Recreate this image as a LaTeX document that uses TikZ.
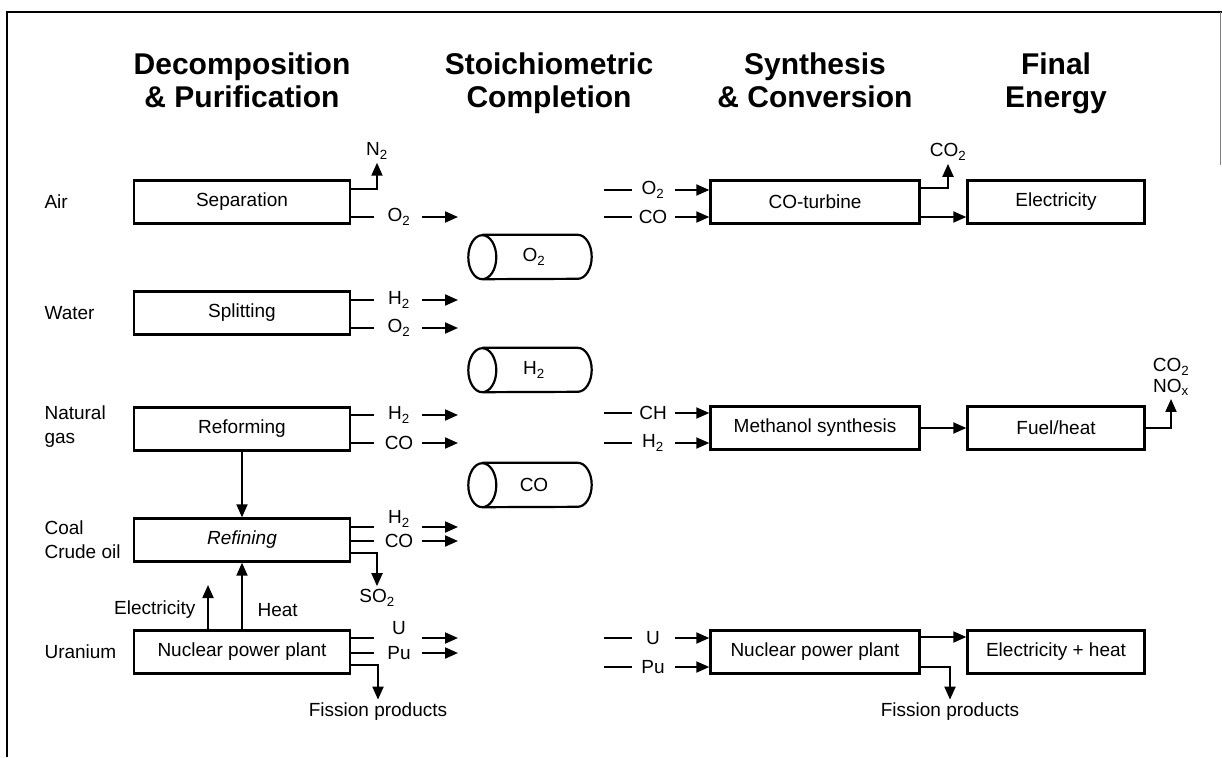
\documentclass[tikz,border=0pt]{standalone}
\usepackage{fontspec}
\setmainfont{Liberation Sans}
\usetikzlibrary{arrows.meta}

\newcommand{\sub}[1]{\textsubscript{#1}}

\tikzset{
  unit/.style={draw, line width=2.4pt, minimum height=43pt, inner sep=0pt},
  tank/.style={minimum width=123pt, minimum height=44pt, inner sep=0pt},
  tankline/.style={line width=2.2pt},
  pipe/.style={line width=2pt},
  arr/.style={line width=2pt, -{Triangle[length=13pt, width=11pt]}},
  gas/.style={inner sep=0pt},
  head/.style={font=\fontsize{30}{33}\selectfont\bfseries, align=center}
}

\begin{document}
\begin{tikzpicture}[x=1pt, y=-1pt, font=\fontsize{19}{24}\selectfont]
\useasboundingbox (0,0) rectangle (1222,757);
% frame
\draw[line width=1.8pt] (7,757) -- (7,12) -- (1222,12);
\draw[line width=0.8pt, gray] (1220,12) -- (1220,165);

% column heads
\node[head] (hDec) at (242,84) {Decomposition\strut\\\& Purification\strut};
\node[head] (hSto) at (549,84) {Stoichiometric\strut\\Completion\strut};
\node[head] (hSyn) at (815,84) {Synthesis\strut\\\& Conversion\strut};
\node[head] (hFin) at (1056,84) {Final\strut\\Energy\strut};

% raw materials
\node[anchor=west] (air) at (41,202) {Air};
\node[anchor=west] (water) at (41,313) {Water};
\node[anchor=west, align=left] (natgas) at (41,427) {Natural\\gas};
\node[anchor=west, align=left] (coal) at (41,540) {Coal\\Crude oil};
\node[anchor=west] (uran) at (41,652) {Uranium};

% first column
\node[unit, minimum width=216pt] (sep) at (242,202) {Separation};
\node[unit, minimum width=216pt] (split) at (242,313) {Splitting};
\node[unit, minimum width=216pt] (reform) at (242,429) {Reforming};
\node[unit, minimum width=216pt] (refine) at (242,540) {\itshape Refining};
\node[unit, minimum width=216pt] (nucL) at (242,652) {Nuclear power plant};

% storage tanks, lying cylinders
\foreach \n/\y/\t in {tankO/257/{O\sub{2}}, tankH/370/{H\sub{2}}, tankC/485/CO}{
  \node[tank] (\n) at (530,\y) {\hspace{8pt}\t};
  \draw[tankline] ([xshift=14pt]\n.north west) -- ([xshift=-14pt]\n.north east)
    arc[start angle=90, end angle=-90, x radius=14pt, y radius=22pt]
    -- ([xshift=14pt]\n.south west)
    arc[start angle=270, end angle=90, x radius=14pt, y radius=22pt]
    arc[start angle=90, end angle=-90, x radius=14pt, y radius=22pt];
}

% second and third column
\node[unit, minimum width=209pt] (turb) at (815,202) {CO-turbine};
\node[unit, minimum width=209pt] (meth) at (815,428) {Methanol synthesis};
\node[unit, minimum width=209pt] (nucR) at (815,652) {Nuclear power plant};
\node[unit, minimum width=177pt] (elec) at (1056,202) {Electricity};
\node[unit, minimum width=177pt] (fuel) at (1056,428) {Fuel/heat};
\node[unit, minimum width=177pt] (elheat) at (1056,652) {Electricity + heat};

% products leaving the first column
\foreach \b/\y/\t/\ty in {sep/217/{O\sub{2}}/217, split/300/{H\sub{2}}/300,
    split/328/{O\sub{2}}/328, reform/415/{H\sub{2}}/415, reform/443/CO/443,
    refine/527/{H\sub{2}}/519, refine/541/CO/541, nucL/638/U/628, nucL/653/Pu/653}{
  \node[gas] (g-\b-\y) at (399,\ty) {\t};
  \coordinate (s-\b-\y) at (374,\y);
  \coordinate (a-\b-\y) at (422,\y);
  \coordinate (e-\b-\y) at (458,\y);
  \draw[pipe] (\b.east |- s-\b-\y) -- (s-\b-\y);
  \draw[arr] (a-\b-\y) -- (e-\b-\y);
}

% feeds of the conversion units
\foreach \b/\y/\t in {turb/190/{O\sub{2}}, turb/217/CO, meth/413/CH,
    meth/443/{H\sub{2}}, nucR/638/U, nucR/667/Pu}{
  \node[gas] (h-\b-\y) at (653,\y) {\t};
  \coordinate (d-\b-\y) at (604,\y);
  \coordinate (f-\b-\y) at (632,\y);
  \coordinate (k-\b-\y) at (675,\y);
  \draw[pipe] (d-\b-\y) -- (f-\b-\y);
  \draw[arr] (k-\b-\y) -- (\b.west |- k-\b-\y);
}

% by-products
\node (n2) at (377,151) {N\sub{2}};
\draw[arr] ([yshift=13pt]sep.east) -| (n2.south);
\node (so2) at (377,598) {SO\sub{2}};
\draw[arr] ([yshift=-13pt]refine.east) -| (so2.north);
\node (fissL) at (378,712) {Fission products};
\draw[arr] ([yshift=-13pt]nucL.east) -| (fissL.north);
\node (co2) at (948,152) {CO\sub{2}};
\draw[arr] ([yshift=14pt]turb.east) -| (co2.south);
\node[align=center, font=\fontsize{19}{21}\selectfont] (exh) at (1171,377) {CO\sub{2}\\NO\sub{x}};
\draw[arr] (fuel.east) -| (exh.south);
\node (fissR) at (950,712) {Fission products};
\draw[arr] ([yshift=-15pt]nucR.east) -| (fissR.north);

% energy flows
\draw[arr] (reform) -- (refine);
\draw[arr] (nucL) -- (refine);
\node[anchor=west] (heat) at (254,610) {Heat};
\coordinate (elecTip) at (208,585);
\draw[arr] (nucL.north -| elecTip) -- (elecTip);
\node[anchor=east] (elecL) at (199,610) {Electricity};
\draw[arr] ([yshift=-15pt]turb.east) -- ([yshift=-15pt]elec.west);
\draw[arr] (meth) -- (fuel);
\draw[arr] ([yshift=15pt]nucR.east) -- ([yshift=15pt]elheat.west);
\end{tikzpicture}
\end{document}
